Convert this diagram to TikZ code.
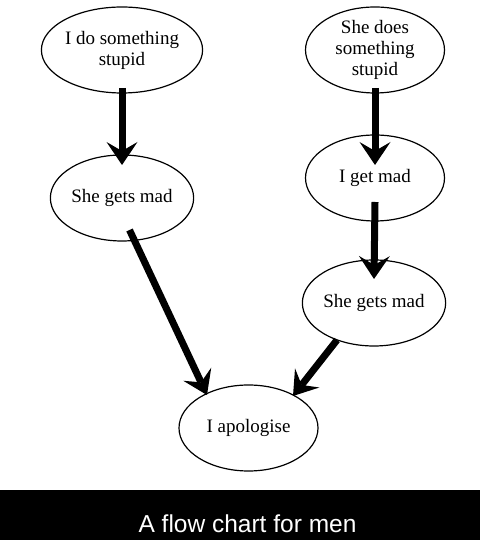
\documentclass[tikz,border=0pt]{standalone}
\usepackage{fontspec}
\setmainfont{Liberation Serif}
\newfontfamily\bannerfont{Liberation Sans}
\usetikzlibrary{shapes.geometric,arrows.meta,calc}
\tikzset{
  bubble/.style={draw, ellipse, line width=1.2pt, minimum width=139pt, minimum height=86pt,
    inner sep=0pt, align=center, font=\fontsize{19}{21}\selectfont, text=black},
  arr/.style={line width=7pt, -{Stealth[length=23pt,width=31pt,inset=9pt,line width=0pt]}}
}
\begin{document}
\begin{tikzpicture}[x=1pt,y=1pt]
\useasboundingbox (0,0) rectangle (480,540);
\fill[white] (0,0) rectangle (480,540);
\fill[black] (0,0) rectangle (480,50);
\node[text=white, font=\bannerfont\fontsize{24.5}{28}\selectfont] (title) at (247.5,16) {A flow chart for men};

\node[bubble] (e1) at (122,490) {I do something\\stupid};
\node[bubble] (e2) at (122,342) {She gets mad};
\node[bubble] (e3) at (375,490) {She does\\something\\stupid};
\node[bubble] (e4) at (375,362) {I get mad};
\node[bubble] (e5) at (374,237) {She gets mad};
\node[bubble] (e6) at (248.5,112) {I apologise};

\draw[arr] ($(e1.center)+(0,-38)$) -- ($(e2.center)+(0,33)$);
\draw[arr] ($(e3.center)+(0,-38)$) -- ($(e4.center)+(0,13)$);
\draw[arr] ($(e4.center)+(0,-24)$) -- ($(e5.center)+(0,24)$);
\draw[arr] ($(e2.center)+(7.5,-32)$) -- ($(e6.center)+(-41.5,33)$);
\draw[arr] ($(e5.center)+(-37,-37)$) -- ($(e6.center)+(44.5,32)$);
\end{tikzpicture}
\end{document}
